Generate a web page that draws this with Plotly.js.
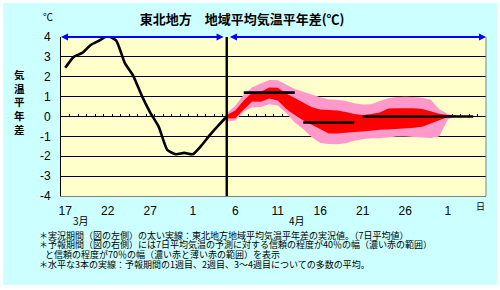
<!DOCTYPE html>
<html>
<head>
<meta charset="utf-8">
<script src="https://cdn.plot.ly/plotly-3.0.1.min.js"></script>
<style>
  html, body { margin: 0; padding: 0; background: #ffffff; width: 500px; height: 290px; overflow: hidden; }
  #chart { position: absolute; left: 3px; top: 3px; width: 494px; height: 282px; }
</style>
</head>
<body>
<div id="chart"></div>
<script>
// ---- category labels (day of month), 17 Mar .. 5 May ----
const days = [17,18,19,20,21,22,23,24,25,26,27,28,29,30,31,
              1,2,3,4,5,6,7,8,9,10,11,12,13,14,15,16,17,18,19,20,21,22,23,24,25,26,27,28,29,30,
              1,2,3,4,5];
const tickEvery = [0,5,10,15,20,25,30,35,40,45];
const yTicks = [-4,-3,-2,-1,0,1,2,3,4];

// ---- observed 7-day mean anomaly (index 0..19) ----
const observed = [2.45, 3.0, 3.2, 3.6, 3.82, 4.05, 3.82, 2.7, 2.05, 1.05,
                  0.2, -0.52, -1.68, -1.9, -1.83, -1.9, -1.47, -0.94, -0.46, 0.0];

// ---- forecast bands, starting at the last observed index ----
const pinkHi = [0.15, 0.54, 1.1, 1.47, 1.66, 1.84, 1.82, 1.62, 1.38, 1.25, 1.1, 0.97, 0.86, 0.84,
                0.78, 0.67, 0.6, 0.62, 0.78, 0.92, 0.98, 1.0, 0.98, 0.94, 0.84, 0.37, 0.12, 0.06];
const redHi  = [0.08, 0.3, 0.8, 1.22, 1.24, 1.46, 1.45, 1.16, 0.93, 0.7, 0.46, 0.35, 0.32, 0.3,
                0.23, 0.12, 0.08, 0.12, 0.2, 0.4, 0.42, 0.42, 0.41, 0.38, 0.25, 0.14, 0.08, 0.05];
const redLo  = [-0.1, -0.09, 0.35, 0.75, 0.74, 0.9, 0.8, 0.38, 0.07, -0.2, -0.42, -0.62, -0.85, -0.85,
                -0.83, -0.78, -0.75, -0.7, -0.67, -0.65, -0.63, -0.6, -0.57, -0.52, -0.36, -0.17, -0.03, 0.04];
const pinkLo = [-0.25, -0.2, 0.25, 0.45, 0.48, 0.62, 0.55, 0.18, -0.3, -0.63, -1.05, -1.33, -1.38, -1.39,
                -1.35, -1.22, -1.14, -1.1, -1.1, -1.04, -1.0, -1.01, -1.03, -1.05, -1.08, -1.0, -0.15, 0.02];

// ---- period means (week1, week2, weeks3-4) ----
const meanValues = [1.2, -0.3, 0.0];
const meanStart  = [21, 28, 35];
const meanEnd    = [27, 34, 48];

const obsX = observed.map((_, i) => i);
const forecastStart = observed.length - 1;
const fcX = pinkHi.map((_, i) => forecastStart + i);
const xMin = -0.5, xMax = days.length - 0.5;
const yMin = yTicks[0], yMax = yTicks[yTicks.length - 1];
const boundaries = days.map((_, i) => i - 0.5).concat([xMax]);

const numFont = 'Liberation Sans, Arial, sans-serif';
const jpFont = 'Noto Sans CJK JP, sans-serif';

const traces = [
  { x: fcX, y: pinkLo, mode: 'lines', line: { width: 0, color: '#FF99CC' }, hoverinfo: 'skip' },
  { x: fcX, y: pinkHi, mode: 'lines', line: { width: 0, color: '#FF99CC' }, fill: 'tonexty', fillcolor: '#FF99CC', hoverinfo: 'skip' },
  { x: fcX, y: redLo, mode: 'lines', line: { width: 0, color: '#FF0000' }, hoverinfo: 'skip' },
  { x: fcX, y: redHi, mode: 'lines', line: { width: 0, color: '#FF0000' }, fill: 'tonexty', fillcolor: '#FF0000', hoverinfo: 'skip' },
  { x: obsX, y: observed, mode: 'lines', line: { color: '#000000', width: 2.6, shape: 'spline', smoothing: 0.5 } },
];
meanValues.forEach((v, k) => {
  traces.push({ x: [meanStart[k], meanEnd[k]], y: [v, v], mode: 'lines', line: { color: '#000000', width: 2.6 } });
});
traces.push({ x: [forecastStart, forecastStart], y: [yMin, yMax], mode: 'lines', line: { color: '#000000', width: 2.4 } });
traces.push({ x: [], y: [], xaxis: 'x2', mode: 'lines', hoverinfo: 'skip' });

function note(x, y, text, size, extra) {
  return Object.assign({ xref: 'paper', yref: 'paper', x: x, y: y, text: text, showarrow: false,
    xanchor: 'center', yanchor: 'middle',
    font: { family: jpFont, size: size, color: '#000000' } }, extra || {});
}

const layout = {
  width: 494, height: 282,
  margin: { l: 58, r: 11, t: 34, b: 89 },
  paper_bgcolor: '#CCFFFF',
  plot_bgcolor: '#FFFFCC',
  showlegend: false,
  title: {
    text: '東北地方　地域平均気温平年差(℃)',
    font: { family: jpFont, size: 13, color: '#000000', weight: 'bold' },
    x: 0.484, xanchor: 'center', xref: 'container',
    y: 0.94, yanchor: 'middle', yref: 'container'
  },
  xaxis: {
    range: [xMin, xMax],
    tickvals: tickEvery,
    ticktext: tickEvery.map(i => String(days[i])),
    tickfont: { family: numFont, size: 12, color: '#000000' },
    ticks: '', showgrid: false, zeroline: false,
    showline: true, linecolor: '#808080', linewidth: 1,
    ticklabelstandoff: 4
  },
  xaxis2: {
    overlaying: 'x', anchor: 'free', position: 0.5,
    range: [xMin, xMax],
    tickvals: boundaries,
    ticks: 'inside', ticklen: 3, tickwidth: 1, tickcolor: '#000000',
    showticklabels: false, showgrid: false, zeroline: false, showline: false,
    layer: 'below traces'
  },
  yaxis: {
    range: [yMin, yMax],
    tickvals: yTicks,
    ticktext: yTicks.map(String),
    tickfont: { family: numFont, size: 12, color: '#000000' },
    ticks: '', showgrid: true, gridcolor: '#000000', gridwidth: 1,
    zeroline: true, zerolinecolor: '#000000', zerolinewidth: 1,
    showline: true, linecolor: '#000000', linewidth: 1,
    ticklabelstandoff: 7
  },
  shapes: [
    { type: 'line', xref: 'paper', yref: 'paper', x0: 1, x1: 1, y0: 0, y1: 1, line: { color: '#808080', width: 1 } }
  ],
  annotations: [
    { xref: 'x', yref: 'y', x: xMin, y: yMax, axref: 'x', ayref: 'y', ax: forecastStart - 0.2, ay: yMax,
      text: '', showarrow: true, arrowside: 'end+start', arrowhead: 2, startarrowhead: 2,
      arrowcolor: '#0000FF', arrowwidth: 2, arrowsize: 0.7, startarrowsize: 0.7, standoff: 0, startstandoff: 0 },
    { xref: 'x', yref: 'y', x: xMax, y: yMax, axref: 'x', ayref: 'y', ax: forecastStart + 0.2, ay: yMax,
      text: '', showarrow: true, arrowside: 'end+start', arrowhead: 2, startarrowhead: 2,
      arrowcolor: '#0000FF', arrowwidth: 2, arrowsize: 0.7, startarrowsize: 0.7, standoff: 0, startstandoff: 0 },
    { xref: 'x', yref: 'y', x: 8.4, y: 4.1, xanchor: 'center', yanchor: 'middle', text: '実況期間', showarrow: false,
      bgcolor: '#FFFF00', bordercolor: '#000000', borderwidth: 1, borderpad: 0,
      font: { family: jpFont, size: 9.5, color: '#000000', weight: 'bold' } },
    { xref: 'x', yref: 'y', x: 34.85, y: 4.1, xanchor: 'center', yanchor: 'middle', text: '予報期間', showarrow: false,
      bgcolor: '#FFFF00', bordercolor: '#000000', borderwidth: 1, borderpad: 0,
      font: { family: jpFont, size: 9.5, color: '#000000', weight: 'bold' } },
    note(-0.0306, 1.126, '℃', 10),
    note(-0.0965, 0.591, '気<br>温<br>平<br>年<br>差', 10.5, { font: { family: jpFont, size: 10.5, color: '#000000', weight: 'bold' } }),
    note(1.8, -0.157, '3月', 10, { xref: 'x' }),
    note(27.3, -0.157, '4月', 10, { xref: 'x' }),
    note(48.85, -0.069, '日', 9, { xref: 'x' }),
    note(-0.0565, -0.248, '＊実況期間（図の左側）の太い実線：東北地方地域平均気温平年差の実況値。（7日平均値）', 9, { xanchor: 'left' }),
    note(-0.0565, -0.306, '＊予報期間（図の右側）には7日平均気温の予測に対する信頼の程度が40％の幅（濃い赤の範囲）', 9, { xanchor: 'left' }),
    note(-0.042, -0.365, 'と信頼の程度が70％の幅（濃い赤と薄い赤の範囲）を表示', 9, { xanchor: 'left' }),
    note(-0.0565, -0.428, '＊水平な3本の実線：予報期間の1週目、2週目、3～4週目についての多数の平均。', 9, { xanchor: 'left' })
  ]
};

Plotly.newPlot('chart', traces, layout, { staticPlot: true, displayModeBar: false });
</script>
</body>
</html>
